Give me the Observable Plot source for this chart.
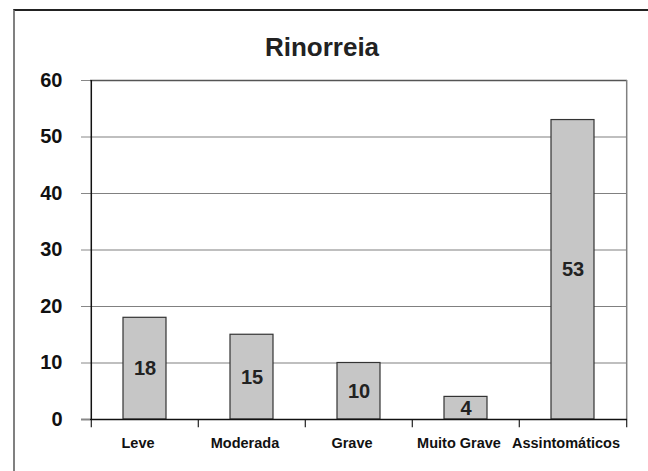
<!DOCTYPE html>
<html>
<head>
<meta charset="utf-8">
<script src="https://cdn.jsdelivr.net/npm/d3@7"></script>
<script src="https://cdn.jsdelivr.net/npm/@observablehq/plot@0.6"></script>
<style>
  html, body { margin: 0; padding: 0; background: #fff; }
  #wrap { position: relative; width: 648px; height: 471px; overflow: hidden; }
  #border { position: absolute; left: 13px; top: 9px; right: -5px; bottom: -5px;
            border-top: 2px solid #222; border-left: 2px solid #808080; }
  #chart { position: absolute; left: 0; top: 0; }
</style>
</head>
<body>
<div id="wrap"><div id="border"></div><div id="chart"></div></div>
<script>
const title = "Rinorreia";
const categories = ["Leve", "Moderada", "Grave", "Muito Grave", "Assintomáticos"];
const values = [18, 15, 10, 4, 53];
const yTicks = [0, 10, 20, 30, 40, 50, 60];

const data = categories.map((c, i) => ({category: c, value: values[i]}));

const W = 648, H = 471;
const mL = 90, mR = 21, mT = 80, mB = 52;
const half = (W - mL - mR) / categories.length / 2;
const font = "'Liberation Sans', Arial, sans-serif";

const chart = Plot.plot({
  width: W,
  height: H,
  marginLeft: mL,
  marginRight: mR,
  marginTop: mT,
  marginBottom: mB,
  style: {fontFamily: font, fontWeight: "bold", color: "#222", background: "transparent"},
  x: {domain: categories, paddingInner: 0.6, paddingOuter: 0.3, align: 0.5, label: null},
  y: {domain: [0, 60], ticks: yTicks, label: null},
  marks: [
    // gridlines
    Plot.ruleY(yTicks.filter(d => d > 0 && d < 60), {stroke: "#808080", strokeWidth: 1.2}),
    Plot.ruleY([60], {stroke: "#555", strokeWidth: 1.5}),
    // right border
    Plot.ruleX([categories[categories.length - 1]], {dx: half, y1: 0, y2: 60, stroke: "#808080", strokeWidth: 1.5}),
    // bars
    Plot.barY(data, {x: "category", y: "value", fill: "#c6c6c6", stroke: "#333", strokeWidth: 1.2}),
    // left axis line
    Plot.ruleX([categories[0]], {dx: -half, y1: 0, y2: 60, stroke: "#111", strokeWidth: 1.5}),
    // category boundary ticks below the baseline
    Plot.ruleX(categories, {dx: -half, y1: 0, y2: -1.45, stroke: "#222", strokeWidth: 1.2}),
    Plot.ruleX([categories[categories.length - 1]], {dx: half, y1: 0, y2: -1.45, stroke: "#222", strokeWidth: 1.2}),
    // baseline
    Plot.ruleY([0], {stroke: "#111", strokeWidth: 1.5, insetLeft: -9}),
    // y axis
    Plot.axisY({ticks: yTicks, tickSize: 9, tickPadding: 19, fontSize: 20, fontWeight: "bold", stroke: "#888", fill: "#111", label: null}),
    // x axis labels
    Plot.axisX({tickSize: 0, tickPadding: 18, dx: -7, fontSize: 14.5, fontWeight: "bold", fill: "#111", label: null}),
    // value labels
    Plot.text(data, {x: "category", y: d => d.value / 2, text: d => String(d.value), fontSize: 20, fontWeight: "bold", fill: "#222"}),
    // title
    Plot.text([title], {frameAnchor: "top", dx: -37, dy: -43, text: d => d, fontSize: 26, fontWeight: "bold", fill: "#222"})
  ]
});
document.getElementById("chart").appendChild(chart);
</script>
</body>
</html>
